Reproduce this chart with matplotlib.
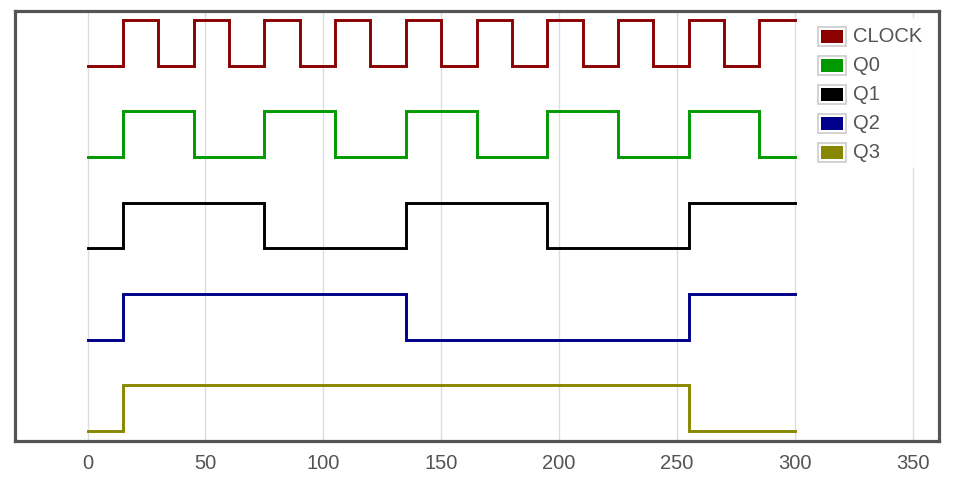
import matplotlib
matplotlib.use("Agg")
import matplotlib.pyplot as plt
from matplotlib.patches import Rectangle

# ---- data ----
time = [0, 15, 30, 45, 60, 75, 90, 105, 120, 135, 150, 165, 180, 195, 210, 225, 240, 255, 270, 285, 300]
clock = [0, 1, 0, 1, 0, 1, 0, 1, 0, 1, 0, 1, 0, 1, 0, 1, 0, 1, 0, 1, 1]
q0 = [0, 1, 1, 0, 0, 1, 1, 0, 0, 1, 1, 0, 0, 1, 1, 0, 0, 1, 1, 0, 0]
q1 = [0, 1, 1, 1, 1, 0, 0, 0, 0, 1, 1, 1, 1, 0, 0, 0, 0, 1, 1, 1, 1]
q2 = [0, 1, 1, 1, 1, 1, 1, 1, 1, 0, 0, 0, 0, 0, 0, 0, 0, 1, 1, 1, 1]
q3 = [0, 1, 1, 1, 1, 1, 1, 1, 1, 1, 1, 1, 1, 1, 1, 1, 1, 0, 0, 0, 0]
names = ["CLOCK", "Q0", "Q1", "Q2", "Q3"]
offsets = [8, 6, 4, 2, 0]
xticks = [0, 50, 100, 150, 200, 250, 300, 350]

colors = ["#8b0000", "#009900", "#000000", "#00008b", "#888800"]
text_color = "#545454"

plt.rcParams['font.family'] = ['Liberation Sans', 'DejaVu Sans']

W, H = 967, 497
fig = plt.figure(figsize=(W / 100, H / 100), dpi=100)
L, R, T, B = 14.5, 939, 10.5, 441
ax = fig.add_axes([L / W, (H - B) / H, (R - L) / W, (B - T) / H])

series = [clock, q0, q1, q2, q3]
for vals, off, c, n in zip(series, offsets, colors, names):
    ax.plot(time, [v + off for v in vals], drawstyle="steps-post", color=c,
            lw=2.1, solid_joinstyle="miter", label=n, zorder=3)

ax.set_xlim(-31, 361.2)
ax.set_ylim(-0.22, 9.21)
ax.set_xticks(xticks)
ax.set_xticklabels([str(t) for t in xticks])
ax.set_yticks([])
ax.tick_params(axis="x", length=0, pad=9.5, labelsize=14.5, labelcolor=text_color)
ax.grid(axis="x", color="#dcdcdc", lw=1.0, zorder=0)
for s in ax.spines.values():
    s.set_color(text_color)
    s.set_linewidth(2.3)

# legend (drawn in pixel coordinates of the figure)
def px(x, y):
    return x / W, (H - y) / H

bg = Rectangle(px(812, 168), (932 - 812) / W, (168 - 18) / H, transform=fig.transFigure,
               facecolor="white", edgecolor="none", alpha=0.9, zorder=5)
fig.patches.append(bg)
row0 = 36.5
step = 29
for i, (n, c) in enumerate(zip(names, colors)):
    yc = row0 + i * step
    x0, y0 = 818, yc + 9.5
    outer = Rectangle(px(x0, y0), 28 / W, 19 / H, transform=fig.transFigure,
                      facecolor="white", edgecolor="#cccccc", lw=1.2, zorder=6)
    inner = Rectangle(px(x0 + 3, y0 - 3), 22 / W, 13 / H, transform=fig.transFigure,
                      facecolor=c, edgecolor="none", zorder=7)
    fig.patches.extend([outer, inner])
    fig.text(*px(853, yc), n, color=text_color, fontsize=14.5, va="center", ha="left", zorder=8)

fig.savefig("out.png", dpi=100)
